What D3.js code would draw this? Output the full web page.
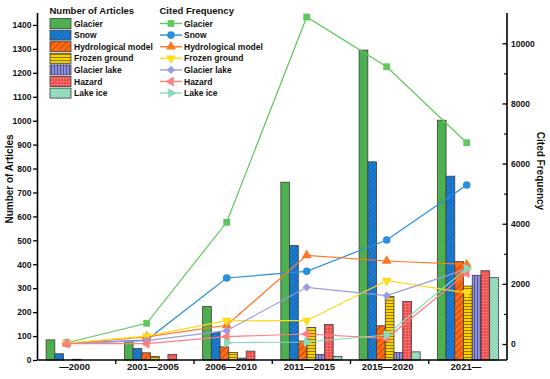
<!DOCTYPE html>
<html>
<head>
<meta charset="utf-8">
<script src="https://cdn.jsdelivr.net/npm/d3@7"></script>
<style>
  html, body { margin: 0; padding: 0; background: #fff; }
  svg text { font-family: "Liberation Sans", Arial, sans-serif; font-weight: bold; fill: #111; }
</style>
</head>
<body>
<div id="chart"></div>
<script>
// Catégories et séries
const categories = ['—2000', '2001—2005', '2006—2010', '2011—2015', '2015—2020', '2021—'];
const seriesNames = ['Glacier', 'Snow', 'Hydrological model', 'Frozen ground', 'Glacier lake', 'Hazard', 'Lake ice'];

// Number of Articles (axe gauche)
const glacierArticles = [84, 79, 224, 743, 1295, 1002];
const snowArticles = [26, 48, 115, 478, 828, 768];
const hydroArticles = [0, 30, 55, 79, 143, 411];
const frozenArticles = [3, 15, 31, 136, 266, 309];
const lakeArticles = [0, 0, 8, 23, 31, 354];
const hazardArticles = [0, 23, 37, 148, 245, 373];
const lakeIceArticles = [0, 0, 0, 15, 34, 344];

// Cited Frequency (axe droit)
const glacierCited = [43, 688, 4047, 10875, 9222, 6694];
const snowCited = [20, 130, 2195, 2418, 3459, 5288];
const hydroCited = [10, 240, 622, 2950, 2760, 2650];
const frozenCited = [30, 260, 775, 775, 2105, 1700];
const lakeCited = [10, 110, 442, 1886, 1607, 2490];
const hazardCited = [10, 10, 243, 333, 190, 2351];
const lakeIceCited = [null, null, 43, 66, 300, 2510];

const leftTicks = [0, 100, 200, 300, 400, 500, 600, 700, 800, 900, 1000, 1100, 1200, 1300, 1400];
const rightTicks = [0, 2000, 4000, 6000, 8000, 10000];
const rightMinorTicks = [1000, 3000, 5000, 7000, 9000];

const articles = [glacierArticles, snowArticles, hydroArticles, frozenArticles, lakeArticles, hazardArticles, lakeIceArticles];
const cited = [glacierCited, snowCited, hydroCited, frozenCited, lakeCited, hazardCited, lakeIceCited];

const barColors = ['#4caf50', '#1c7fd6', '#ff6a13', '#f7d400', '#9090d8', '#ee4848', '#6fcaa2'];
const hatchColors = [null, '#0d3f80', '#8a2e00', '#8a6d00', '#4a4a9a', '#ff9c9c', '#bdeed8'];
const lineColors = ['#5fc75f', '#2a8fdc', '#ff7722', '#ffdb1a', '#9b9be0', '#ff7f7f', '#88dcbc'];

const width = 550, height = 379;
const xLeft = 37.5, xRight = 507, yTop = 13, yBottom = 360;

const svg = d3.select('#chart').append('svg')
  .attr('width', width)
  .attr('height', height);

// Motifs de remplissage
const defs = svg.append('defs');
function pattern(i, size, draw) {
  const p = defs.append('pattern')
    .attr('id', 'pat' + i)
    .attr('patternUnits', 'userSpaceOnUse')
    .attr('width', size)
    .attr('height', size);
  p.append('rect').attr('width', size).attr('height', size).attr('fill', barColors[i]);
  draw(p);
  return p;
}
pattern(1, 3, p => p.attr('patternTransform', 'rotate(45)')
  .append('line').attr('x1', 0).attr('y1', 0).attr('x2', 0).attr('y2', 3)
  .attr('stroke', hatchColors[1]).attr('stroke-width', 0.9));
pattern(2, 4.5, p => p.attr('patternTransform', 'rotate(45)')
  .append('line').attr('x1', 0).attr('y1', 0).attr('x2', 0).attr('y2', 4.5)
  .attr('stroke', hatchColors[2]).attr('stroke-width', 1));
pattern(3, 3, p => p.append('line').attr('x1', 0).attr('y1', 0.5).attr('x2', 3).attr('y2', 0.5)
  .attr('stroke', hatchColors[3]).attr('stroke-width', 0.9));
pattern(4, 3, p => p.append('line').attr('x1', 0.5).attr('y1', 0).attr('x2', 0.5).attr('y2', 3)
  .attr('stroke', hatchColors[4]).attr('stroke-width', 0.9));
pattern(5, 3, p => {
  p.append('line').attr('x1', 0).attr('y1', 0.25).attr('x2', 3).attr('y2', 0.25)
    .attr('stroke', hatchColors[5]).attr('stroke-width', 0.5);
  p.append('line').attr('x1', 0.25).attr('y1', 0).attr('x2', 0.25).attr('y2', 3)
    .attr('stroke', hatchColors[5]).attr('stroke-width', 0.5);
});
pattern(6, 3, p => {
  p.append('rect').attr('x', 0).attr('y', 0).attr('width', 1.5).attr('height', 1.5).attr('fill', hatchColors[6]);
  p.append('rect').attr('x', 1.5).attr('y', 1.5).attr('width', 1.5).attr('height', 1.5).attr('fill', hatchColors[6]);
});
const fillOf = i => i === 0 ? barColors[0] : `url(#pat${i})`;

// Échelles
const xBand = d3.scaleBand()
  .domain(categories)
  .range([xLeft, xRight])
  .paddingInner(0.22)
  .paddingOuter(0.11);

const xSeries = d3.scaleBand()
  .domain(seriesNames)
  .range([0, xBand.bandwidth()]);

const xPoint = d3.scalePoint()
  .domain(categories)
  .range([66.7, 466.7]);

const yLeft = d3.scaleLinear().domain([0, 1450]).range([yBottom, yTop]);
const yRight = d3.scaleLinear().domain([-532, 11008]).range([yBottom, yTop]);

// Barres
const barData = [];
categories.forEach((c, ci) => {
  seriesNames.forEach((s, si) => {
    barData.push({ c, s, si, v: articles[si][ci] });
  });
});

svg.append('g')
  .selectAll('rect')
  .data(barData.filter(d => d.v > 0))
  .enter()
  .append('rect')
  .attr('x', d => xBand(d.c) + xSeries(d.s))
  .attr('y', d => yLeft(d.v))
  .attr('width', xSeries.bandwidth())
  .attr('height', d => yLeft(0) - yLeft(d.v))
  .attr('fill', d => fillOf(d.si))
  .attr('stroke', '#3d3d3d')
  .attr('stroke-width', 0.8);

// Symboles
const symbolTypes = [
  { type: d3.symbolSquare, size: 46, rot: 0 },
  { type: d3.symbolCircle, size: 46, rot: 0 },
  { type: d3.symbolTriangle, size: 42, rot: 0 },
  { type: d3.symbolTriangle, size: 42, rot: 180 },
  { type: d3.symbolSquare, size: 34, rot: 45 },
  { type: d3.symbolTriangle, size: 42, rot: -90 },
  { type: d3.symbolTriangle, size: 42, rot: 90 }
];
const symbolPath = i => d3.symbol().type(symbolTypes[i].type).size(symbolTypes[i].size)();

// Lignes (Cited Frequency)
const lineGen = d3.line()
  .defined(d => d.v != null)
  .x(d => xPoint(d.c))
  .y(d => yRight(d.v));

const linesG = svg.append('g');
seriesNames.forEach((s, si) => {
  const pts = categories.map((c, ci) => ({ c, v: cited[si][ci] }));
  const g = linesG.append('g');
  g.append('path')
    .datum(pts)
    .attr('d', lineGen)
    .attr('fill', 'none')
    .attr('stroke', lineColors[si])
    .attr('stroke-width', 1.2);
  g.selectAll('path.m')
    .data(pts.filter(d => d.v != null))
    .enter()
    .append('path')
    .attr('class', 'm')
    .attr('d', symbolPath(si))
    .attr('transform', d => `translate(${xPoint(d.c)},${yRight(d.v)}) rotate(${symbolTypes[si].rot})`)
    .attr('fill', lineColors[si]);
});

// Axe gauche
const axisL = svg.append('g')
  .attr('transform', `translate(${xLeft},0)`)
  .call(d3.axisLeft(yLeft).tickValues(leftTicks).tickFormat(d3.format('d')).tickSize(4.5).tickPadding(1.5));
axisL.select('.domain').attr('d', `M0,${yTop}V${yBottom}`).attr('stroke-width', 1.6);
axisL.selectAll('.tick line').attr('stroke-width', 1.3);
axisL.selectAll('text').attr('font-size', '8.5px');

// Axe droit
const axisR = svg.append('g')
  .attr('transform', `translate(${xRight},0)`)
  .call(d3.axisRight(yRight).tickValues(rightTicks).tickFormat(d3.format('d')).tickSize(-4.5).tickPadding(4));
axisR.select('.domain').attr('d', `M0,${yTop}V${yBottom}`).attr('stroke-width', 1.6);
axisR.selectAll('.tick line').attr('stroke-width', 1.3);
axisR.selectAll('text').attr('font-size', '8.5px');

const axisRMinor = svg.append('g')
  .attr('transform', `translate(${xRight},0)`)
  .call(d3.axisRight(yRight).tickValues(rightMinorTicks).tickSize(-3).tickFormat(''));
axisRMinor.select('.domain').remove();
axisRMinor.selectAll('.tick line').attr('stroke-width', 1.1);

// Axe horizontal
const axisB = svg.append('g')
  .attr('transform', `translate(0,${yBottom})`)
  .call(d3.axisBottom(xBand).tickSize(0).tickPadding(3.5));
axisB.select('.domain').attr('d', `M${xLeft},0H${xRight}`).attr('stroke-width', 1.6);
axisB.selectAll('text').attr('font-size', '9.5px').attr('dx', -2);

// Graduations entre les groupes
const gap = xBand.step() * xBand.paddingInner() / 2;
svg.append('g')
  .selectAll('line')
  .data(categories.slice(1))
  .enter()
  .append('line')
  .attr('x1', d => xBand(d) - gap)
  .attr('x2', d => xBand(d) - gap)
  .attr('y1', yBottom)
  .attr('y2', yBottom + 4)
  .attr('stroke', '#000')
  .attr('stroke-width', 1.3);

// Titres des axes
svg.append('text')
  .attr('transform', `translate(12.5,179) rotate(-90)`)
  .attr('text-anchor', 'middle')
  .attr('font-size', '10px')
  .text('Number of Articles');

svg.append('text')
  .attr('transform', `translate(536.5,171) rotate(90)`)
  .attr('text-anchor', 'middle')
  .attr('font-size', '10px')
  .text('Cited Frequency');

// Légendes
const rowY = i => 23.5 + i * 11.6;

const legL = svg.append('g');
legL.append('text').attr('x', 49.5).attr('y', 13.5).attr('font-size', '9.5px').text('Number of Articles');
seriesNames.forEach((s, i) => {
  legL.append('rect')
    .attr('x', 50).attr('y', rowY(i) - 5)
    .attr('width', 21).attr('height', 10)
    .attr('fill', fillOf(i))
    .attr('stroke', '#3d3d3d')
    .attr('stroke-width', 0.8);
  legL.append('text')
    .attr('x', 74).attr('y', rowY(i) + 3)
    .attr('font-size', '8.5px')
    .text(s);
});

const legR = svg.append('g');
legR.append('text').attr('x', 159.5).attr('y', 13.5).attr('font-size', '9.5px').text('Cited Frequency');
seriesNames.forEach((s, i) => {
  legR.append('line')
    .attr('x1', 160).attr('x2', 182)
    .attr('y1', rowY(i)).attr('y2', rowY(i))
    .attr('stroke', lineColors[i])
    .attr('stroke-width', 1.4);
  legR.append('path')
    .attr('d', symbolPath(i))
    .attr('transform', `translate(171,${rowY(i)}) rotate(${symbolTypes[i].rot})`)
    .attr('fill', lineColors[i]);
  legR.append('text')
    .attr('x', 184).attr('y', rowY(i) + 3)
    .attr('font-size', '8.5px')
    .text(s);
});
</script>
</body>
</html>
